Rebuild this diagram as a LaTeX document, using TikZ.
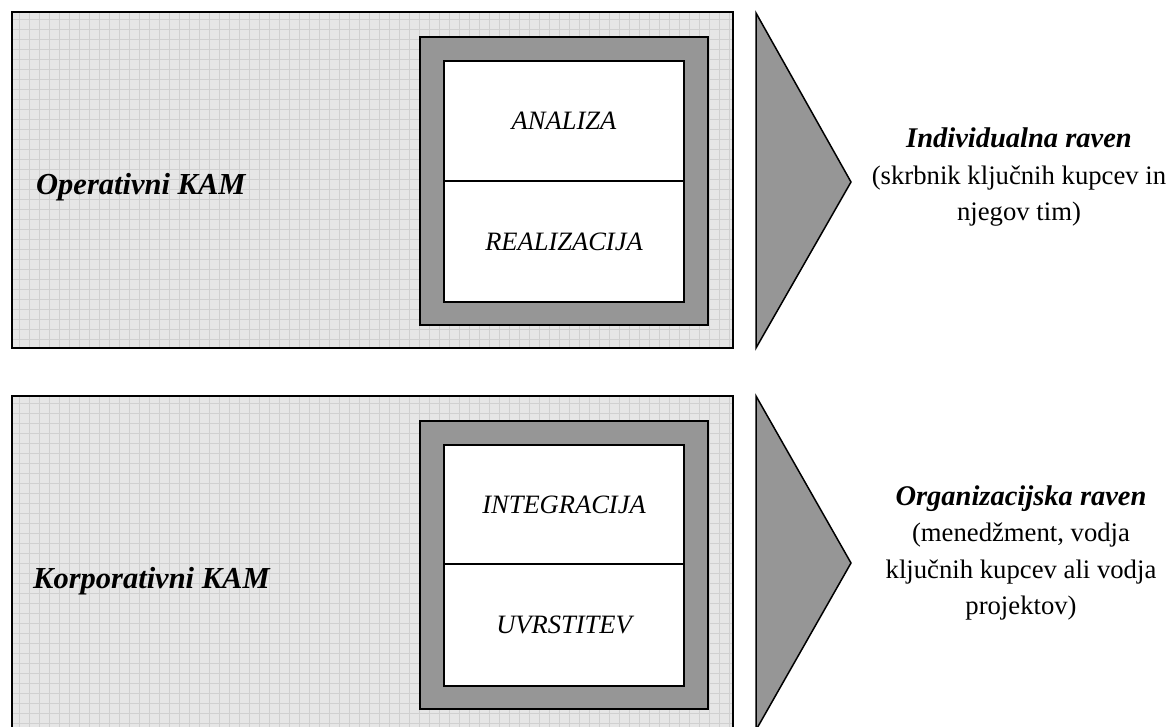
\documentclass[tikz,border=0pt]{standalone}
\usepackage{fontspec}
\setmainfont{Liberation Serif}
\definecolor{paper}{HTML}{E6E6E6}
\definecolor{gridln}{HTML}{D0D0D0}
\definecolor{framegray}{HTML}{969696}
\newcommand\levelheadfont{\fontsize{28.5}{36.5}\selectfont\bfseries\itshape}
\tikzset{
  panel/.style={draw=black, line width=1.7pt},
  frame/.style={draw=black, fill=framegray, line width=1.5pt, inner sep=0pt,
                minimum width=288pt, minimum height=288pt},
  stage/.style={draw=black, fill=white, line width=1.5pt, inner sep=0pt,
                minimum width=240pt, font=\fontsize{26.5}{30}\selectfont\itshape},
  kam/.style={inner sep=0pt, font=\fontsize{30.5}{34}\selectfont\bfseries\itshape},
  wedge/.style={draw=black, fill=framegray, line width=1.5pt, line join=miter},
  level/.style={inner sep=0pt, align=center, font=\fontsize{26.7}{36.5}\selectfont}
}
\begin{document}
\begin{tikzpicture}[x=1pt,y=-1pt]
\useasboundingbox (0,0) rectangle (1170,726);
\clip (0,0) rectangle (1170,726);
\fill[white] (0,0) rectangle (1170,726);

% gridded background panels
\foreach \top/\bot in {12/348, 396/732}{
  \begin{scope}
    \clip (12,\top) rectangle (733,\bot);
    \fill[paper] (12,\top) rectangle (733,\bot);
    \foreach \x in {19,29,...,733} \draw[gridln, line width=0.9pt] (\x,\top) -- (\x,\bot);
    \foreach \y in {0,10,...,340} \draw[gridln, line width=0.9pt] (12,\top+7+\y) -- (733,\top+7+\y);
  \end{scope}
  \draw[panel] (12,\top) rectangle (733,\bot);
}

% operative level
\node[frame] (fa) at (564,181) {};
\node[stage, minimum height=120pt] (an) at (564,121) {ANALIZA};
\node[stage, minimum height=121pt] (re) at (564,241.5) {REALIZACIJA};
\node[kam, anchor=base west] (op) at (36,194) {Operativni KAM};
\coordinate (wa1) at (756,13);
\coordinate (wa2) at (851,182);
\coordinate (wa3) at (756,348);
\draw[wedge] (wa1) -- (wa2) -- (wa3) -- cycle;
\node[level] (ind) at (1019,177)
  {{\levelheadfont Individualna raven}\\(skrbnik ključnih kupcev in\\njegov tim)};

% corporate level
\node[frame] (fb) at (564,565) {};
\node[stage, minimum height=119pt] (in) at (564,504.5) {INTEGRACIJA};
\node[stage, minimum height=122pt] (uv) at (564,625) {UVRSTITEV};
\node[kam, anchor=base west] (ko) at (33,588) {Korporativni KAM};
\coordinate (wb1) at (756,396);
\coordinate (wb2) at (851,563);
\coordinate (wb3) at (756,730);
\draw[wedge] (wb1) -- (wb2) -- (wb3) -- cycle;
\node[level] (org) at (1021,553)
  {{\levelheadfont Organizacijska raven}\\(menedžment, vodja\\ključnih kupcev ali vodja\\projektov)};
\end{tikzpicture}
\end{document}
